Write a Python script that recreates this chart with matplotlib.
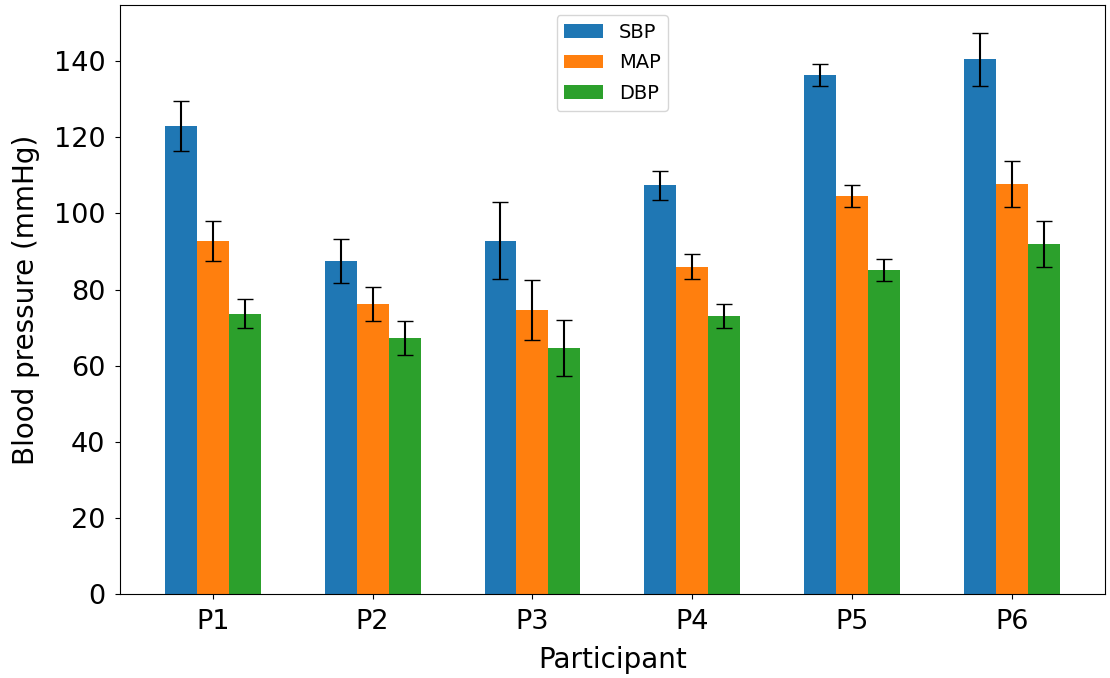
import matplotlib
matplotlib.use('Agg')
import matplotlib.pyplot as plt
import numpy as np

participants = ['P1', 'P2', 'P3', 'P4', 'P5', 'P6']

sbp = [123.0, 87.5, 92.8, 107.4, 136.4, 140.5]
sbp_err = [6.5, 5.7, 10.1, 3.8, 3.0, 6.9]
map_ = [92.8, 76.2, 74.7, 86.0, 104.5, 107.8]
map_err = [5.3, 4.5, 7.9, 3.3, 2.9, 6.1]
dbp = [73.6, 67.3, 64.6, 73.0, 85.1, 91.9]
dbp_err = [3.8, 4.4, 7.3, 3.1, 2.85, 6.0]

x = np.arange(len(participants))
width = 0.2

fig, ax = plt.subplots(figsize=(11.1, 6.78), dpi=100)
ax.bar(x - width, sbp, width, yerr=sbp_err, capsize=6, ecolor='black', label='SBP')
ax.bar(x, map_, width, yerr=map_err, capsize=6, ecolor='black', label='MAP')
ax.bar(x + width, dbp, width, yerr=dbp_err, capsize=6, ecolor='black', label='DBP')

ax.set_xticks(x)
ax.set_xticklabels(participants)
ax.tick_params(labelsize=19.5, pad=7)
ax.set_xlabel('Participant', fontsize=20, labelpad=8)
ax.set_ylabel('Blood pressure (mmHg)', fontsize=20, labelpad=10)
ax.legend(loc='upper center', fontsize=14, labelspacing=0.6)

plt.subplots_adjust(left=0.108, right=0.9955, top=0.9926, bottom=0.124)
plt.savefig('out.png')
